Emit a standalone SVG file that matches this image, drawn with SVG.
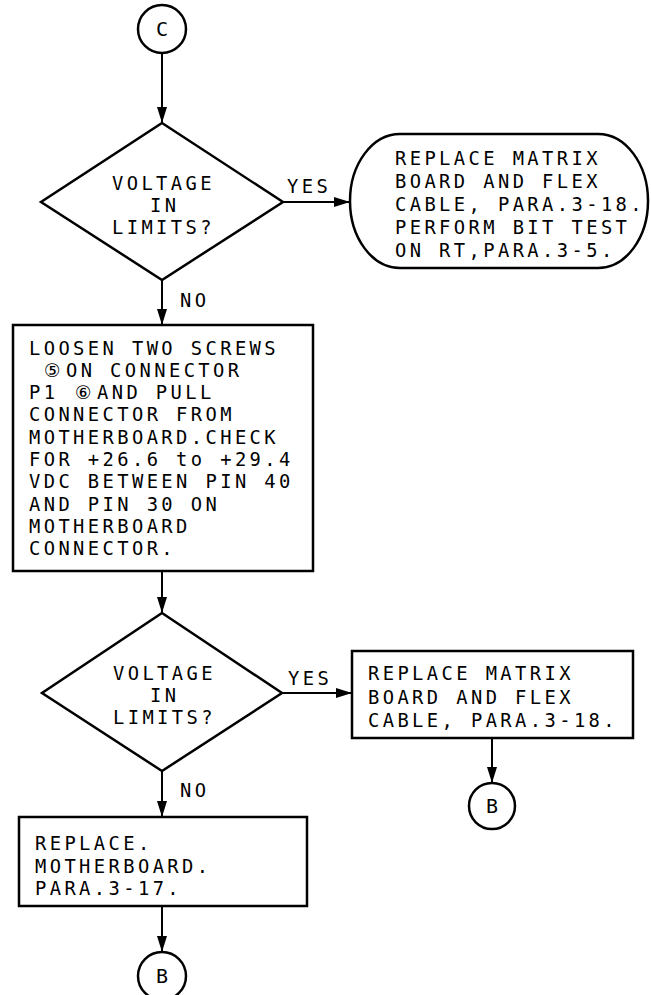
<svg xmlns="http://www.w3.org/2000/svg" width="651" height="995" viewBox="0 0 651 995">
<style>
.s{fill:#fff;stroke:#000;stroke-width:2.5}
.c{stroke:#000;stroke-width:2;fill:none}
.t{font-family:"DejaVu Sans Mono","Liberation Mono",monospace;font-size:18.8px;letter-spacing:3.4px;fill:#000}
.m{font-family:"DejaVu Sans Mono","Liberation Mono",monospace;font-size:20px;fill:#000;text-anchor:middle}
.g{font-family:"DejaVu Sans","Noto Sans",sans-serif;letter-spacing:0}
</style>
<defs>
<marker id="ah" markerUnits="userSpaceOnUse" markerWidth="16" markerHeight="10" refX="16" refY="5" orient="auto">
<path d="M0,0 L16,5 L0,10 Z" fill="#000"/>
</marker>
</defs>
<rect width="651" height="995" fill="#fff"/>
<g id="connectors">
<line class="c" x1="162" y1="53" x2="162" y2="123" marker-end="url(#ah)"/>
<line class="c" x1="283" y1="202" x2="350" y2="202" marker-end="url(#ah)"/>
<line class="c" x1="162" y1="280" x2="162" y2="325" marker-end="url(#ah)"/>
<line class="c" x1="162" y1="571" x2="162" y2="613" marker-end="url(#ah)"/>
<line class="c" x1="282" y1="693" x2="352" y2="693" marker-end="url(#ah)"/>
<line class="c" x1="162" y1="771" x2="162" y2="817" marker-end="url(#ah)"/>
<line class="c" x1="492" y1="738" x2="492" y2="783" marker-end="url(#ah)"/>
<line class="c" x1="162" y1="906" x2="162" y2="952" marker-end="url(#ah)"/>
<text class="t" x="287" y="193">YES</text>
<text class="t" x="180" y="307">NO</text>
<text class="t" x="288" y="685">YES</text>
<text class="t" x="180" y="797">NO</text>
</g>
<g id="start-c">
<circle class="s" cx="162" cy="29" r="24"/>
<text class="m" x="162" y="36">C</text>
</g>
<g id="decision-1">
<polygon class="s" points="162,123 283,202 162,280 41,202"/>
<text class="t" x="112" y="190">VOLTAGE</text>
<text class="t" x="150" y="212">IN</text>
<text class="t" x="112" y="234">LIMITS?</text>
</g>
<g id="terminal-replace">
<rect class="s" x="350" y="134" width="298" height="134" rx="50" ry="67"/>
<text class="t" x="395" y="165">REPLACE MATRIX</text>
<text class="t" x="395" y="188">BOARD AND FLEX</text>
<text class="t" x="395" y="211">CABLE, PARA.3-18.</text>
<text class="t" x="395" y="234">PERFORM BIT TEST</text>
<text class="t" x="395" y="257">ON RT,PARA.3-5.</text>
</g>
<g id="box-loosen">
<rect class="s" x="13" y="325" width="300" height="246"/>
<text class="t" x="29" y="355">LOOSEN TWO SCREWS</text>
<text class="t" y="377"><tspan class="g" x="44">⑤</tspan><tspan x="66">ON CONNECTOR</tspan></text>
<text class="t" y="399"><tspan x="29">P1</tspan><tspan class="g" x="75">⑥</tspan><tspan x="97">AND PULL</tspan></text>
<text class="t" x="29" y="421">CONNECTOR FROM</text>
<text class="t" x="29" y="444">MOTHERBOARD.CHECK</text>
<text class="t" x="29" y="466">FOR +26.6 to +29.4</text>
<text class="t" x="29" y="488">VDC BETWEEN PIN 40</text>
<text class="t" x="29" y="511">AND PIN 30 ON</text>
<text class="t" x="29" y="533">MOTHERBOARD</text>
<text class="t" x="29" y="555">CONNECTOR.</text>
</g>
<g id="decision-2">
<polygon class="s" points="162,613 282,693 162,771 42,693"/>
<text class="t" x="113" y="680">VOLTAGE</text>
<text class="t" x="150" y="702">IN</text>
<text class="t" x="113" y="724">LIMITS?</text>
</g>
<g id="box-replace-matrix">
<rect class="s" x="352" y="651" width="281" height="87"/>
<text class="t" x="368" y="680">REPLACE MATRIX</text>
<text class="t" x="368" y="704">BOARD AND FLEX</text>
<text class="t" x="368" y="727">CABLE, PARA.3-18.</text>
</g>
<g id="end-b1">
<circle class="s" cx="492" cy="806" r="23"/>
<text class="m" x="492" y="813">B</text>
</g>
<g id="box-replace-motherboard">
<rect class="s" x="19" y="817" width="288" height="89"/>
<text class="t" x="35" y="850">REPLACE.</text>
<text class="t" x="35" y="873">MOTHERBOARD.</text>
<text class="t" x="35" y="895">PARA.3-17.</text>
</g>
<g id="end-b2">
<circle class="s" cx="162" cy="976" r="24"/>
<text class="m" x="162" y="983">B</text>
</g>
</svg>
